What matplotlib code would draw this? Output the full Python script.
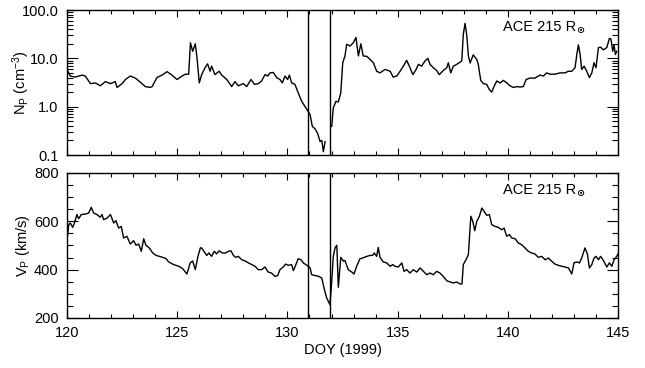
import numpy as np
import matplotlib
matplotlib.use('Agg')
import matplotlib.pyplot as plt
from matplotlib.ticker import MultipleLocator, LogLocator, FixedLocator, FixedFormatter

plt.rcParams['font.family'] = ['Liberation Sans', 'DejaVu Sans']
plt.rcParams['mathtext.fontset'] = 'custom'
plt.rcParams['mathtext.rm'] = 'Liberation Sans'
plt.rcParams['mathtext.it'] = 'Liberation Sans'
plt.rcParams['mathtext.default'] = 'regular'

# proton density (cm^-3); nan = data gap
np_doy = [120.0, 120.15, 120.38, 120.68, 120.83, 121.06, 121.29, 121.51, 121.74, 121.97,
          122.19, 122.27, 122.5, 122.65, 122.87, 123.1, 123.33, 123.55, 123.78, 123.86,
          124.08, 124.31, 124.54, 124.76, 124.99, 125.22, 125.37, 125.52, 125.6, 125.7,
          125.82, 125.9, 126.0, 126.11, 126.26, 126.38, 126.49, 126.56, 126.71, 126.9,
          127.02, 127.25, 127.47, 127.62, 127.77, 128.0, 128.15, 128.35, 128.5, 128.68,
          128.83, 128.98, 129.11, 129.21, 129.36, 129.51, 129.66, 129.77, 129.89, 130.01,
          130.09, 130.19, 130.34, 130.49, 130.65, 130.8, 130.92, 131.03, 131.13, 131.25,
          131.37, 131.48, 131.56, 131.63, 131.71, 131.85,
          132.01, 132.08, 132.2, 132.31, 132.42, 132.51, 132.61, 132.69, 132.84, 132.99,
          133.11, 133.22, 133.33, 133.44, 133.6, 133.75, 133.9, 134.05, 134.2, 134.43,
          134.66, 134.8, 134.96, 135.11, 135.26, 135.41, 135.53, 135.69, 135.84, 135.94,
          136.09, 136.24, 136.37, 136.47, 136.62, 136.77, 136.89, 137.07, 137.23, 137.3,
          137.41, 137.53, 137.68, 137.91, 137.98, 138.06, 138.14, 138.21, 138.29, 138.43,
          138.59, 138.66, 138.77, 138.89, 139.04, 139.16, 139.27, 139.37, 139.5, 139.65,
          139.8, 139.95, 140.1, 140.25, 140.4, 140.55, 140.7, 140.83, 141.0, 141.23,
          141.46, 141.61, 141.76, 141.91, 142.14, 142.37, 142.6, 142.74, 142.9, 143.05,
          143.13, 143.2, 143.28, 143.35, 143.46, 143.58, 143.7, 143.81, 143.91, 144.0,
          144.11, 144.21, 144.33, 144.49, 144.61, 144.68, 144.76, 144.82, 144.88, 144.94]
np_val = [5.9, 4.3, 4.1, 4.5, 4.3, 3.0, 3.1, 2.7, 3.3, 3.0,
          3.3, 2.5, 3.0, 3.65, 4.3, 3.9, 3.2, 2.6, 2.5, 2.6,
          4.0, 4.5, 5.3, 4.5, 3.65, 4.3, 4.7, 4.7, 21.0, 14.0,
          20.0, 10.0, 3.1, 4.6, 6.4, 7.7, 5.4, 6.9, 4.6, 5.4,
          4.5, 3.65, 2.6, 3.3, 2.7, 3.0, 2.6, 3.65, 2.9, 3.0,
          3.4, 4.6, 4.3, 5.0, 5.1, 4.0, 3.65, 3.1, 4.3, 3.65,
          4.5, 3.1, 2.9, 1.93, 1.29, 1.0, 0.83, 0.68, 0.39, 0.35,
          0.28, 0.19, 0.2, 0.117, 0.19, np.nan,
          0.39, 0.94, 1.29, 1.25, 1.93, 8.1, 11.2, 19.6, 18.0, 21.0,
          27.0, 11.2, 20.0, 11.2, 11.0, 9.5, 8.1, 5.4, 5.0, 5.9,
          5.4, 4.1, 4.3, 5.4, 6.9, 9.1, 6.9, 4.6, 5.9, 7.5,
          6.9, 8.8, 10.0, 7.5, 6.4, 5.6, 4.6, 5.6, 6.4, 8.1,
          5.0, 6.9, 7.5, 8.8, 31.6, 53.0, 29.0, 11.2, 8.0, 11.8,
          9.5, 7.5, 3.5, 3.0, 2.9, 2.26, 2.0, 2.6, 3.4, 3.1,
          3.5, 3.1, 2.7, 2.5, 2.6, 2.55, 2.6, 3.65, 3.9, 3.9,
          4.5, 4.3, 5.0, 4.7, 4.7, 5.0, 5.0, 5.4, 5.4, 6.4,
          12.0, 19.0, 12.0, 5.9, 6.9, 5.4, 4.0, 5.0, 8.1, 6.4,
          16.7, 17.0, 15.0, 16.7, 26.0, 25.0, 14.0, 19.0, 12.0, 14.0]

# proton speed (km/s)
vp_doy = [120.0, 120.08, 120.15, 120.26, 120.35, 120.45, 120.53, 120.65, 120.83, 120.98,
          121.1, 121.21, 121.36, 121.51, 121.59, 121.66, 121.81, 121.97, 122.12, 122.22,
          122.34, 122.46, 122.57, 122.72, 122.87, 123.02, 123.13, 123.25, 123.37, 123.48,
          123.58, 123.73, 123.89, 124.04, 124.19, 124.34, 124.49, 124.61, 124.84, 125.07,
          125.25, 125.44, 125.52, 125.59, 125.7, 125.82, 125.94, 126.05, 126.11, 126.23,
          126.34, 126.44, 126.56, 126.68, 126.79, 126.9, 127.05, 127.2, 127.32, 127.44,
          127.55, 127.65, 127.77, 127.93, 128.08, 128.23, 128.38, 128.53, 128.68, 128.83,
          128.98, 129.13, 129.28, 129.44, 129.56, 129.66, 129.81, 129.92, 130.04, 130.19,
          130.27, 130.34, 130.49, 130.62, 130.72, 130.83, 130.95, 131.03, 131.1, 131.25,
          131.43, 131.56, 131.68, 131.78, 131.89, 131.93, 132.01, 132.08, 132.16, 132.24,
          132.31, 132.42, 132.54, 132.61, 132.76, 132.92, 133.02, 133.14, 133.29, 133.44,
          133.6, 133.75, 133.87, 133.94, 134.05, 134.12, 134.2, 134.35, 134.5, 134.66,
          134.78, 134.88, 135.03, 135.19, 135.29, 135.41, 135.56, 135.71, 135.87, 136.02,
          136.17, 136.32, 136.47, 136.62, 136.77, 136.92, 137.07, 137.23, 137.38, 137.53,
          137.68, 137.83, 137.92, 137.98, 138.1, 138.21, 138.32, 138.41, 138.5, 138.59,
          138.71, 138.82, 138.92, 139.04, 139.16, 139.27, 139.42, 139.57, 139.72, 139.83,
          139.95, 140.07, 140.18, 140.33, 140.48, 140.63, 140.78, 140.93, 141.08, 141.23,
          141.38, 141.54, 141.69, 141.84, 141.99, 142.14, 142.29, 142.45, 142.6, 142.75,
          142.9, 143.0, 143.13, 143.25, 143.35, 143.5, 143.61, 143.7, 143.81, 143.91,
          144.0, 144.11, 144.21, 144.33, 144.49, 144.61, 144.72, 144.82, 144.94, 145.0]
vp_val = [524, 586, 593, 575, 597, 628, 611, 628, 630, 634,
          658, 634, 628, 617, 628, 607, 613, 628, 593, 603,
          572, 579, 531, 538, 506, 520, 501, 506, 476, 528,
          501, 490, 469, 459, 455, 451, 446, 432, 421, 414,
          404, 382, 407, 428, 436, 400, 455, 490, 490, 473,
          459, 469, 455, 476, 465, 478, 469, 469, 476, 478,
          459, 451, 455, 441, 436, 428, 421, 414, 400, 400,
          411, 390, 386, 372, 376, 400, 411, 423, 418, 421,
          396, 411, 445, 441, 428, 421, 414, 407, 379, 376,
          372, 365, 317, 283, 262, 255, 352, 455, 490, 501,
          327, 451, 435, 438, 400, 390, 382, 414, 445, 449,
          455, 459, 459, 469, 455, 492, 451, 432, 428, 414,
          421, 414, 411, 428, 393, 400, 386, 400, 390, 407,
          393, 379, 386, 379, 393, 386, 372, 354, 349, 345,
          349, 341, 341, 421, 441, 462, 621, 600, 561, 600,
          621, 655, 641, 625, 628, 586, 579, 575, 565, 572,
          538, 545, 531, 528, 510, 503, 490, 476, 469, 465,
          451, 455, 441, 448, 435, 423, 418, 414, 411, 407,
          382, 428, 432, 428, 448, 490, 465, 407, 421, 448,
          455, 441, 455, 439, 411, 428, 414, 441, 455, 465]

boundaries = [130.95, 131.95]
label_text = 'ACE 215 R'


def style_axis(ax):
    ax.set_xlim(120, 145)
    ax.xaxis.set_major_locator(MultipleLocator(5))
    ax.xaxis.set_minor_locator(MultipleLocator(1))
    ax.tick_params(which='both', direction='in', top=True, right=True,
                   labelsize=10.5, width=0.8, pad=6)
    ax.tick_params(axis='x', which='major', length=5)
    ax.tick_params(axis='x', which='minor', length=3)
    ax.tick_params(axis='y', which='major', length=8)
    ax.tick_params(axis='y', which='minor', length=4.5)
    for s in ax.spines.values():
        s.set_linewidth(1.0)
    for b in boundaries:
        ax.axvline(b, color='black', lw=1.0)
    ax.text(0.924, 0.885, label_text, transform=ax.transAxes, ha='right',
            va='center', fontsize=10.5)
    # small solar symbol as subscript
    ax.annotate('\u2299', xy=(0.924, 0.885), xycoords='axes fraction',
                xytext=(0.2, -2.5), textcoords='offset points',
                ha='left', va='center', fontsize=7, family='DejaVu Sans',
                fontweight='bold')
    ax.yaxis.set_label_coords(-0.064, 0.5)


fig = plt.figure(figsize=(6.45, 3.68), dpi=100)
ax1 = fig.add_axes([0.1039, 0.5788, 0.8543, 0.394])
ax2 = fig.add_axes([0.1039, 0.1359, 0.8543, 0.394])

ax1.plot(np_doy, np_val, color='black', lw=1.0)
ax1.set_yscale('log')
ax1.set_ylim(0.1, 100)
ax1.yaxis.set_major_locator(FixedLocator([0.1, 1, 10, 100]))
ax1.yaxis.set_major_formatter(FixedFormatter(['0.1', '1.0', '10.0', '100.0']))
ax1.yaxis.set_minor_locator(LogLocator(base=10, subs=np.arange(2, 10)))
ax1.yaxis.set_minor_formatter(FixedFormatter([]))
ax1.set_ylabel(r'N$_\mathrm{P}$ (cm$^{-3}$)', fontsize=10.5)
style_axis(ax1)
ax1.tick_params(axis='x', labelbottom=False)

ax2.plot(vp_doy, vp_val, color='black', lw=1.0)
ax2.set_ylim(200, 800)
ax2.yaxis.set_major_locator(MultipleLocator(200))
ax2.yaxis.set_minor_locator(MultipleLocator(50))
ax2.set_ylabel(r'V$_\mathrm{P}$ (km/s)', fontsize=10.5)
ax2.set_xlabel('DOY (1999)', fontsize=10.5, labelpad=2)
style_axis(ax2)

fig.savefig('out.png', dpi=100)
